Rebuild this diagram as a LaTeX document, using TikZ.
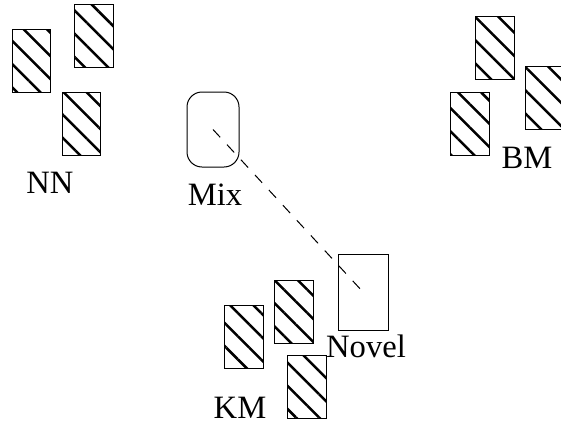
\documentclass[tikz,border=0pt]{standalone}
\usepackage{fontspec}
\setmainfont{Liberation Serif}
\usetikzlibrary{patterns.meta}
\tikzset{
  hatchbox/.style={draw, line width=0.5pt, inner sep=0pt, outer sep=0pt,
    minimum width=19.25pt, minimum height=31.5pt,
    pattern={Lines[angle=-45, distance=8.2pt, line width=1.25pt]}},
  mixbox/.style={draw, line width=0.5pt, rounded corners=7.5pt, inner sep=0pt,
    minimum width=26pt, minimum height=37.5pt},
  novelbox/.style={draw, line width=0.5pt, inner sep=0pt,
    minimum width=25pt, minimum height=38pt},
  lbl/.style={anchor=base, inner sep=0pt, font=\fontsize{16.3}{19}\selectfont},
  link/.style={dash pattern=on 5.3pt off 5pt, line width=0.5pt}
}
\begin{document}
\begin{tikzpicture}[x=0.5pt, y=-0.5pt]
  \useasboundingbox (0,0) rectangle (561,423);
  \begin{scope}
  \clip (0,0) rectangle (561,423);
  % NN cluster
  \node[hatchbox] (nn1) at (31.5,60.5) {};
  \node[hatchbox] (nn2) at (94,35.5) {};
  \node[hatchbox] (nn3) at (81.5,123.5) {};
  \node[lbl] (nn) at (50,193) {NN};
  % BM cluster
  \node[hatchbox] (bm1) at (495,48) {};
  \node[hatchbox] (bm2) at (470,123.5) {};
  \node[hatchbox] (bm3) at (545,98) {};
  \node[lbl] (bm) at (527,168) {BM};
  % KM cluster
  \node[hatchbox] (km1) at (244,336.5) {};
  \node[hatchbox] (km2) at (294,311.5) {};
  \node[hatchbox] (km3) at (307,386.5) {};
  \node[lbl] (km) at (240,418) {KM};
  % Mix and Novel
  \node[mixbox] (mixbox) at (213,129.5) {};
  \node[lbl] (mix) at (215,205) {Mix};
  \node[novelbox] (novelbox) at (363,292) {};
  \node[lbl] (novel) at (366,357) {Novel};
  \draw[link] (mixbox.center) -- (novelbox.center);
  \end{scope}
\end{tikzpicture}
\end{document}
